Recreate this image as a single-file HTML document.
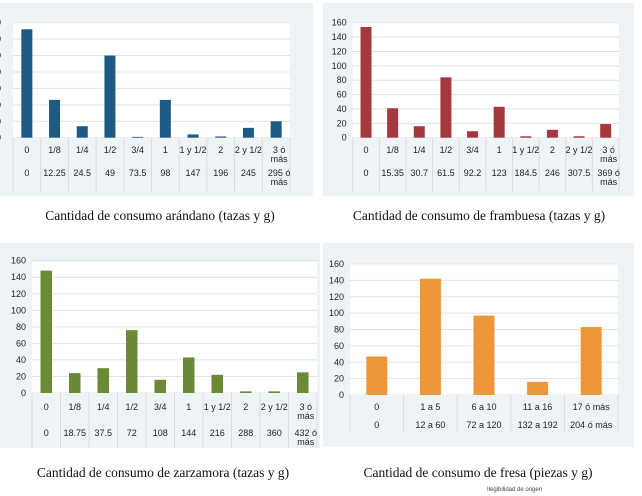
<!DOCTYPE html>
<html><head><meta charset="utf-8">
<style>
body{margin:0;width:642px;height:496px;background:#fff;overflow:hidden;position:relative;font-family:"Liberation Sans",sans-serif}
svg{position:absolute;left:0;top:0}
.cap{position:absolute;font-family:"Liberation Serif",serif;font-size:13.5px;color:#111;white-space:nowrap;transform:translateX(-50%)}
</style></head>
<body>
<svg id="s" width="642" height="496"></svg>
<div class="cap" style="left:160px;top:208px">Cantidad de consumo arándano (tazas y g)</div>
<div class="cap" style="left:479px;top:208px">Cantidad de consumo de frambuesa (tazas y g)</div>
<div class="cap" style="left:163px;top:465px">Cantidad de consumo de zarzamora (tazas y g)</div>
<div class="cap" style="left:478px;top:465px">Cantidad de consumo de fresa (piezas y g)</div>
<div style="position:absolute;left:487px;top:487px;font-size:6px;color:#444">Ilegibilidad de origen</div>
<script>
const cupCats=["0","1/8","1/4","1/2","3/4","1","1 y 1/2","2","2 y 1/2","3 ó|más"];
const arandanoGrams=["0","12.25","24.5","49","73.5","98","147","196","245","295 ó|más"];
const arandanoValues=[132,46,14,100,1,46,4,1.5,12,20];
const frambuesaGrams=["0","15.35","30.7","61.5","92.2","123","184.5","246","307.5","369 ó|más"];
const frambuesaValues=[154,41,16,84,9,43,2,11,2,19];
const zarzamoraGrams=["0","18.75","37.5","72","108","144","216","288","360","432 ó|más"];
const zarzamoraValues=[148,24,30,76,16,43,22,2,2,25];
const fresaCats=["0","1 a 5","6 a 10","11 a 16","17 ó más"];
const fresaGrams=["0","12 a 60","72 a 120","132 a  192","204 ó más"];
const fresaValues=[47,142,97,16,83];
const ticks140=[0,20,40,60,80,100,120,140];
const ticks160=[0,20,40,60,80,100,120,140,160];

const NS="http://www.w3.org/2000/svg";
const svg=document.getElementById('s');
function mk(t,a){const e=document.createElementNS(NS,t);for(const k in a)e.setAttribute(k,a[k]);svg.appendChild(e);return e;}
function txt(x,y,s,anchor,name){const e=mk('text',{x:x,y:y,'font-size':9,fill:'#222','text-anchor':anchor});e.textContent=s;

return e;}
function chart(c){
  const bg=mk('rect',{x:c.px,y:c.py,width:c.pw,height:c.ph,fill:'#eef3f5'});
  
  
  const pl=mk('rect',{x:c.x0,y:c.yTop,width:c.x1-c.x0,height:c.y0-c.yTop,fill:'#fff'});
  
  
  const max=c.ticks[c.ticks.length-1];
  const ys=v=>c.y0-(v/max)*(c.y0-c.yTop);
  c.ticks.forEach(t=>{
    const l=mk('line',{x1:c.x0,x2:c.x1,y1:ys(t),y2:ys(t),stroke:'#dde3e8','stroke-width':1});
    
    
    txt(c.x0-(c.labGap||6),ys(t)+3,String(t),'end',c.id+'-y-tick');
  });
  const n=c.cats.length,step=(c.x1-c.x0)/n;
  const xs=i=>c.x0+step*(i+0.5);
  const tb=mk('rect',{x:c.x0,y:c.y0,width:c.x1-c.x0,height:c.tableH,fill:'#eef3f5'});
  
  
  for(let i=0;i<=n;i++){
    const l=mk('line',{x1:c.x0+step*i,x2:c.x0+step*i,y1:c.y0,y2:c.y0+c.tableH,stroke:'#d4dce2','stroke-width':1});
    
    
  }
  c.vals.forEach((v,i)=>{
    const r=mk('rect',{x:xs(i)-c.bw/2,y:ys(v),width:c.bw,height:c.y0-ys(v),fill:c.color});
    
    
  });
  [c.cats,c.grams].forEach((row,ri)=>{
    row.forEach((s,i)=>{
      const parts=s.split('|');
      parts.forEach((p,k)=>txt(xs(i)+(parts.length>1?3:0),c.rowY[ri]+k*9,p,'middle',c.id+(ri?'-gram-label':'-category-label')));
    });
  });
}
chart({id:'arandano',px:0,py:3,pw:313,ph:193,x0:13,x1:290,yTop:22.7,y0:137.7,ticks:ticks140,cats:cupCats,grams:arandanoGrams,vals:arandanoValues,bw:11,color:'#1f5a85',tableH:54,rowY:[153,176],labGap:12});
chart({id:'frambuesa',px:323,py:3,pw:311,ph:193,x0:352.7,x1:619,yTop:22.7,y0:137.7,ticks:ticks160,cats:cupCats,grams:frambuesaGrams,vals:frambuesaValues,bw:11,color:'#a5383f',tableH:54,rowY:[153,176]});
chart({id:'zarzamora',px:0,py:243,pw:320,ph:205,x0:32,x1:317,yTop:260.7,y0:393,ticks:ticks160,cats:cupCats,grams:zarzamoraGrams,vals:zarzamoraValues,bw:11.5,color:'#6a8a35',tableH:55,rowY:[410,436]});
chart({id:'fresa',px:323,py:243,pw:311,ph:204,x0:350,x1:618,yTop:264,y0:395,ticks:ticks160,cats:fresaCats,grams:fresaGrams,vals:fresaValues,bw:21,color:'#f0963a',tableH:38,rowY:[410,428]});
</script>
</body></html>
